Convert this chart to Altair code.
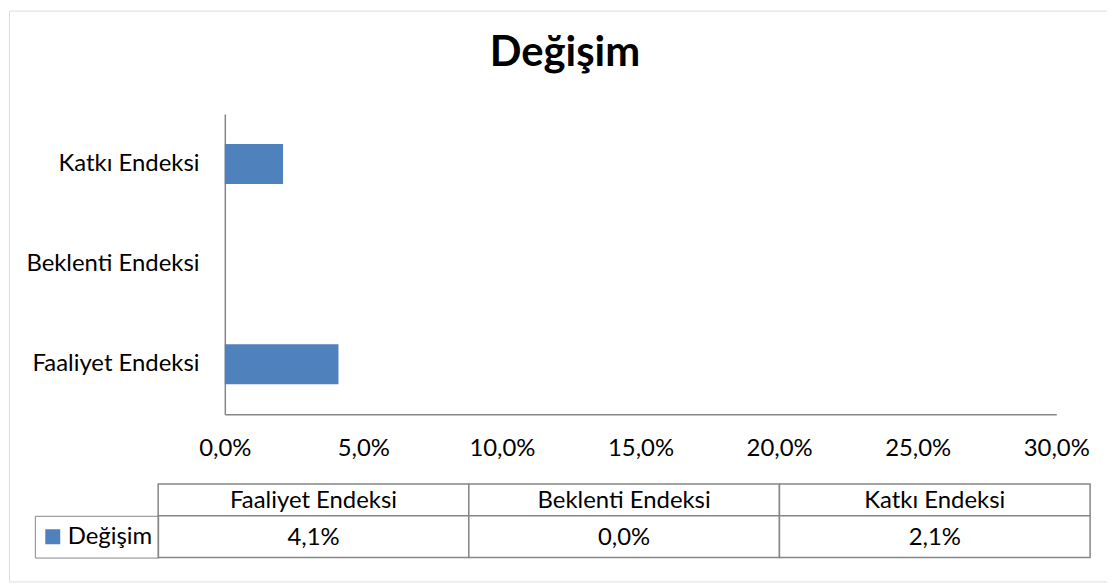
import altair as alt
import pandas as pd

# ---- data ----
categories = ["Faaliyet Endeksi", "Beklenti Endeksi", "Katkı Endeksi"]
values = [0.041, 0.0, 0.021]
series_name = "Değişim"
tick_values = [0.0, 0.05, 0.10, 0.15, 0.20, 0.25, 0.30]
title_text = "Değişim"

# ---- layout (chart space: reference pixel minus 9) ----
FONT = "Lato"
FS = 24
W, H = 1104, 574
GRAY = "#868686"
BLUE = "#4F81BD"
BAR_X_RANGE = [217, 1053]
BAR_Y_RANGE = [104, 406]
TABLE_X_RANGE = [150, 1087]
HEADER_Y_RANGE = [476, 508]
VALUE_Y_RANGE = [508, 550]

fmt = "replace(format(datum.value, '.1%'), '.', ',')"

df = pd.DataFrame({"category": categories, "value": values,
                   "series": [series_name] * len(categories)})

bars = alt.Chart(df).mark_bar().encode(
    x=alt.X("value:Q",
            scale=alt.Scale(domain=[0, 0.3], range=BAR_X_RANGE, nice=False, zero=True),
            axis=alt.Axis(values=tick_values, labelExpr=fmt, ticks=False, grid=False,
                          domainColor=GRAY, domainWidth=1.5, labelPadding=22,
                          offset=-(H - BAR_Y_RANGE[1]), labelFontSize=FS, labelFont=FONT,
                          labelColor="black", title=None, labelFlush=False)),
    y=alt.Y("category:N", sort=categories[::-1],
            scale=alt.Scale(range=BAR_Y_RANGE, paddingInner=0.6, paddingOuter=0.3),
            axis=alt.Axis(ticks=False, grid=False, domainColor=GRAY, domainWidth=1.5,
                          labelPadding=26, offset=-BAR_X_RANGE[0], title=None,
                          labelFontSize=FS, labelFont=FONT, labelColor="black")),
    color=alt.Color("series:N", scale=alt.Scale(range=[BLUE]),
                    legend=alt.Legend(orient="none", legendX=26, legendY=VALUE_Y_RANGE[0],
                                      title=None, symbolType="square", symbolSize=225,
                                      symbolStrokeWidth=0, labelFont=FONT, labelFontSize=FS,
                                      labelColor="black", padding=6, clipHeight=30,
                                      strokeColor=GRAY, labelOffset=3)),
)

tx = alt.X("category:N", sort=categories,
           scale=alt.Scale(range=TABLE_X_RANGE, paddingInner=0, paddingOuter=0), axis=None)

tbase = alt.Chart(df).transform_calculate(label=fmt)

header_rect = tbase.transform_calculate(row="'h'").mark_rect(
    fill="white", stroke=GRAY, strokeWidth=1.5).encode(
    x=tx, y=alt.Y("row:N", scale=alt.Scale(range=HEADER_Y_RANGE, paddingInner=0, paddingOuter=0), axis=None))
header_text = tbase.transform_calculate(row="'h'").mark_text(
    font=FONT, fontSize=FS, color="black", dy=1).encode(
    x=tx, y=alt.Y("row:N", scale=alt.Scale(range=HEADER_Y_RANGE, paddingInner=0, paddingOuter=0), axis=None),
    text="category:N")
value_rect = tbase.transform_calculate(row="'v'").mark_rect(
    fill="white", stroke=GRAY, strokeWidth=1.5).encode(
    x=tx, y=alt.Y("row:N", scale=alt.Scale(range=VALUE_Y_RANGE, paddingInner=0, paddingOuter=0), axis=None))
value_text = tbase.transform_calculate(row="'v'").mark_text(
    font=FONT, fontSize=FS, color="black", dy=1).encode(
    x=tx, y=alt.Y("row:N", scale=alt.Scale(range=VALUE_Y_RANGE, paddingInner=0, paddingOuter=0), axis=None),
    text="label:N")

chart = alt.layer(header_rect, value_rect, header_text, value_text, bars).resolve_scale(
    x="independent", y="independent"
).properties(
    width=W, height=H,
    autosize=alt.AutoSizeParams(type="none"),
    padding={"left": 1, "top": 1, "right": 0, "bottom": 0},
    title=alt.TitleParams(title_text, font=FONT, fontSize=42, fontWeight="bold",
                          color="black", anchor="middle", offset=-65, dx=7),
).configure_view(stroke=GRAY, strokeWidth=2).configure(font=FONT)

chart.save("out.html", embed_options={"renderer": "svg", "actions": False})
